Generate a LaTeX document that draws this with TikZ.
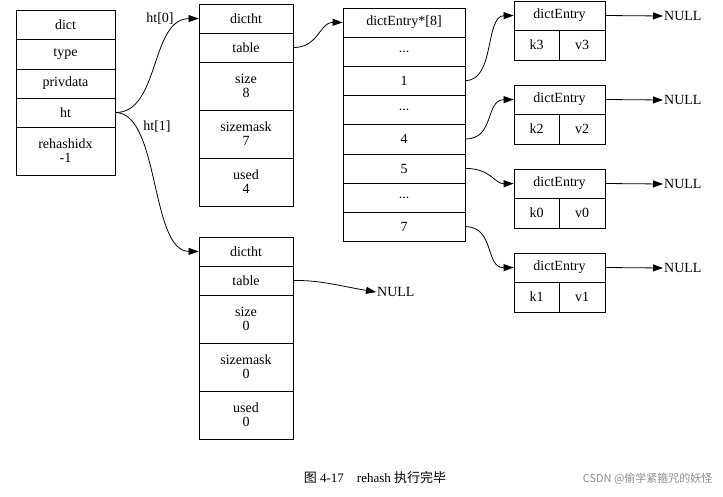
\documentclass[tikz,border=0pt]{standalone}
\usepackage{fontspec}
\setmainfont{Liberation Serif}
\newfontfamily\cjk{Noto Sans CJK SC}
\usetikzlibrary{arrows.meta}
\begin{document}
\begin{tikzpicture}[x=1pt,y=-1pt,
  cell/.style={draw,thick,inner sep=0pt,align=center,font=\fontsize{14}{14}\selectfont},
  arr/.style={-{Triangle[length=10pt,width=7pt]},thick},
  lab/.style={font=\fontsize{14}{14}\selectfont,inner sep=1pt}]
\useasboundingbox (0,0) rectangle (723,496);
\newcommand\cellat[6]{\node[cell,minimum width=#4-#2,minimum height=#5-#3] (#1) at ({(#2+#4)/2},{(#3+#5)/2}) {#6};}
% dict
\cellat{d0}{16}{10}{115}{39}{dict}
\cellat{d1}{16}{39}{115}{69}{type}
\cellat{d2}{16}{69}{115}{98}{privdata}
\cellat{d3}{16}{98}{115}{127}{ht}
\cellat{d4}{16}{127}{115}{175}{rehashidx\\-1}
% dictht 0
\cellat{a0}{199}{4}{293}{33}{dictht}
\cellat{a1}{199}{33}{293}{62}{table}
\cellat{a2}{199}{62}{293}{110}{size\\8}
\cellat{a3}{199}{110}{293}{158}{sizemask\\7}
\cellat{a4}{199}{158}{293}{206}{used\\4}
% dictht 1
\cellat{b0}{199}{237}{293}{266}{dictht}
\cellat{b1}{199}{266}{293}{295}{table}
\cellat{b2}{199}{295}{293}{343}{size\\0}
\cellat{b3}{199}{343}{293}{391}{sizemask\\0}
\cellat{b4}{199}{391}{293}{439}{used\\0}
% array
\cellat{t0}{343}{8}{465}{37}{dictEntry*[8]}
\cellat{t1}{343}{37}{465}{66}{...}
\cellat{t2}{343}{66}{465}{95}{1}
\cellat{t3}{343}{95}{465}{124}{...}
\cellat{t4}{343}{124}{465}{154}{4}
\cellat{t5}{343}{154}{465}{183}{5}
\cellat{t6}{343}{183}{465}{212}{...}
\cellat{t7}{343}{212}{465}{241}{7}
% entries
\cellat{e1}{514}{1}{605}{30}{dictEntry}
\cellat{e1k}{514}{30}{559}{60}{k3}
\cellat{e1v}{559}{30}{605}{60}{v3}
\cellat{e2}{514}{85}{605}{114}{dictEntry}
\cellat{e2k}{514}{114}{559}{144}{k2}
\cellat{e2v}{559}{114}{605}{144}{v2}
\cellat{e3}{514}{169}{605}{198}{dictEntry}
\cellat{e3k}{514}{198}{559}{228}{k0}
\cellat{e3v}{559}{198}{605}{228}{v0}
\cellat{e4}{514}{253}{605}{282}{dictEntry}
\cellat{e4k}{514}{282}{559}{312}{k1}
\cellat{e4v}{559}{282}{605}{312}{v1}
% NULLs
\node[lab,anchor=west] (n1) at (663,16) {NULL};
\node[lab,anchor=west] (n2) at (663,100) {NULL};
\node[lab,anchor=west] (n3) at (663,184) {NULL};
\node[lab,anchor=west] (n4) at (663,268) {NULL};
\node[lab,anchor=west] (nb) at (376,292) {NULL};
% connectors
\draw[arr] (d3.east) .. controls (160,113) and (150,19) .. (a0.west);
\draw[arr] (d3.east) .. controls (160,113) and (150,251) .. (b0.west);
\node[lab] at (160,19) {ht[0]};
\node[lab] at (157,127) {ht[1]};
\draw[arr] (a1.east) .. controls (318,48) and (320,22) .. (t0.west);
\draw[arr] (b1.east) .. controls (320,280) and (340,286) .. (nb.west);
\draw[arr] (t2.east) .. controls (495,81) and (485,16) .. (e1.west);
\draw[arr] (t4.east) .. controls (495,139) and (485,100) .. (e2.west);
\draw[arr] (t5.east) .. controls (490,168) and (495,184) .. (e3.west);
\draw[arr] (t7.east) .. controls (495,227) and (485,268) .. (e4.west);
\foreach \i in {1,2,3,4} \draw[arr] (e\i.east) -- (n\i.west);
% caption
\node[font=\fontsize{13}{13}\selectfont] (cap) at (375,478) {{\cjk 图} 4-17\quad rehash {\cjk 执行完毕}};
\node[font=\fontsize{11}{11}\selectfont\cjk,text=black!45,anchor=east] (wm) at (716,479) {CSDN @偷学紧箍咒的妖怪};
\end{tikzpicture}
\end{document}
